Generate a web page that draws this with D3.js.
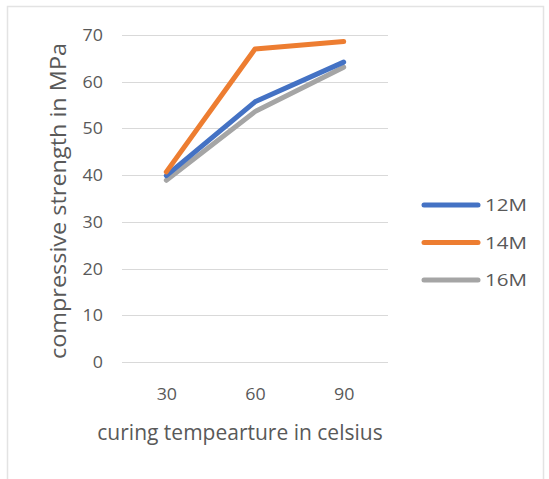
<!DOCTYPE html>
<html>
<head>
<meta charset="utf-8">
<script src="https://cdn.jsdelivr.net/npm/d3@7"></script>
<style>
  body { margin: 0; background: #fff; }
  svg { display: block; font-family: "Open Sans", "Noto Sans", sans-serif; }
</style>
</head>
<body>
<svg id="chart" width="549" height="479"></svg>
<script>
// curing temperatures (categories)
var temps = ['30', '60', '90'];
var series = ['12M', '14M', '16M'];
var colors = ['#4472c4', '#ed7d31', '#a5a5a5'];
var values12 = [39.9, 55.7, 64.2];
var values14 = [40.7, 67.0, 68.6];
var values16 = [38.9, 53.6, 63.1];
var yTicks = [0, 10, 20, 30, 40, 50, 60, 70];

(function () {
  var svg = d3.select('#chart');
  var W = 549, H = 479;

  // chart frame
  svg.append('path')
    .attr('d', 'M7.5,' + H + 'V6.5H543.5V' + H)
    .attr('fill', 'none')
    .attr('stroke', '#e3e3e3')
    .attr('stroke-width', 1.5);

  var pLeft = 122, pRight = 388, pTop = 35, pBottom = 362;

  var x = d3.scalePoint().domain(temps).range([pLeft, pRight]).padding(0.5);
  var y = d3.scaleLinear().domain([0, 70]).range([pBottom, pTop]);

  // the source picture is a bit stretched sideways, so widen glyphs a little
  function widen(sel, perChar) {
    sel.attr('textLength', function () { return this.textContent.length * perChar; })
       .attr('lengthAdjust', 'spacingAndGlyphs');
  }

  // gridlines
  svg.append('g').selectAll('line')
    .data(yTicks)
    .enter().append('line')
      .attr('x1', pLeft).attr('x2', pRight)
      .attr('y1', (d) => Math.round(y(d)) + 0.5)
      .attr('y2', (d) => Math.round(y(d)) + 0.5)
      .attr('stroke', '#d9d9d9')
      .attr('stroke-width', 1);

  // y axis labels
  var yAxis = d3.axisLeft(y).tickValues(yTicks).tickSize(0).tickPadding(19);
  var gy = svg.append('g').attr('transform', 'translate(' + pLeft + ',0)').call(yAxis);
  gy.select('.domain').remove();
  gy.selectAll('text')
    .attr('fill', '#595959')
    .style('font-size', '17px')
    .style('font-family', '"Open Sans", sans-serif')
    .call(widen, 10.2);

  // x axis labels
  var xAxis = d3.axisBottom(x).tickSize(0).tickPadding(0);
  var gx = svg.append('g').attr('transform', 'translate(0,' + pBottom + ')').call(xAxis);
  gx.select('.domain').remove();
  gx.selectAll('text')
    .attr('y', 38)
    .attr('dy', 0)
    .attr('fill', '#595959')
    .style('font-size', '17px')
    .style('font-family', '"Open Sans", sans-serif')
    .call(widen, 10.2);

  // lines
  var data = [values12, values14, values16];
  var line = d3.line()
    .x((d, i) => x(temps[i]))
    .y((d) => y(d));

  // grey first, then blue, then orange on top
  var order = [2, 0, 1];
  svg.append('g').selectAll('path')
    .data(order)
    .enter().append('path')
      .attr('d', (k) => line(data[k]))
      .attr('fill', 'none')
      .attr('stroke', (k) => colors[k])
      .attr('stroke-width', 5)
      .attr('stroke-linejoin', 'round')
      .attr('stroke-linecap', 'round');

  // axis titles
  svg.append('text')
    .attr('transform', 'translate(66,201) rotate(-90)')
    .attr('text-anchor', 'middle')
    .attr('fill', '#595959')
    .style('font-size', '21px')
    .attr('textLength', 316)
    .attr('lengthAdjust', 'spacingAndGlyphs')
    .text('compressive strength in MPa');

  svg.append('text')
    .attr('x', 240)
    .attr('y', 440)
    .attr('text-anchor', 'middle')
    .attr('fill', '#595959')
    .style('font-size', '21px')
    .text('curing tempearture in celsius');

  // legend
  var legend = svg.append('g').selectAll('g')
    .data(series)
    .enter().append('g')
      .attr('transform', (d, i) => 'translate(0,' + (205 + i * 37.5) + ')');
  legend.append('line')
    .attr('x1', 424).attr('x2', 478)
    .attr('stroke', (d, i) => colors[i])
    .attr('stroke-width', 5)
    .attr('stroke-linecap', 'round');
  legend.append('text')
    .attr('x', 485)
    .attr('dy', '0.36em')
    .attr('fill', '#595959')
    .style('font-size', '17px')
    .attr('textLength', 42)
    .attr('lengthAdjust', 'spacingAndGlyphs')
    .text((d) => d);
})();
</script>
</body>
</html>
